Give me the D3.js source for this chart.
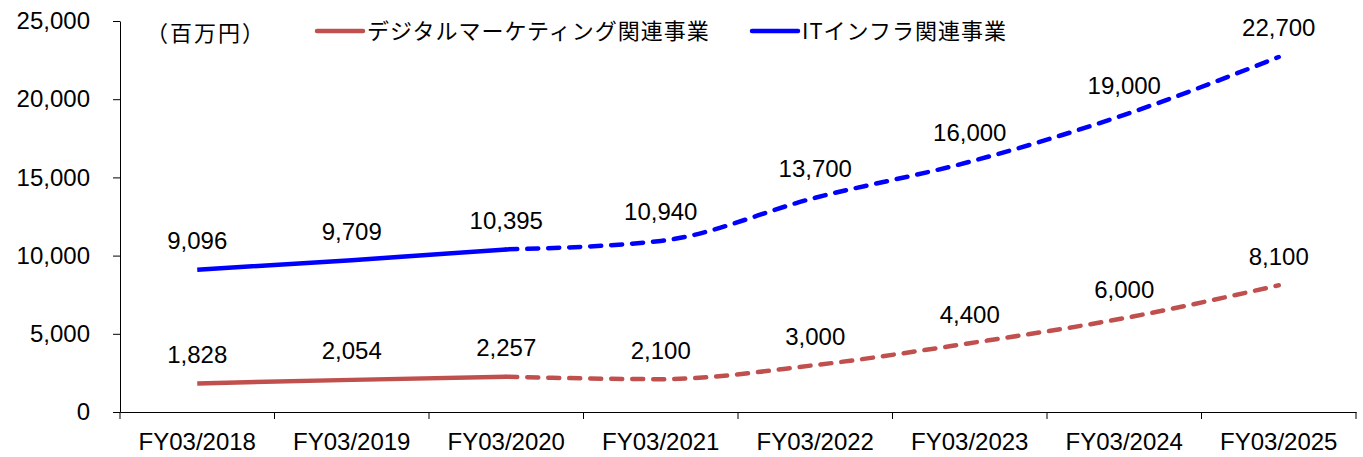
<!DOCTYPE html>
<html>
<head>
<meta charset="utf-8">
<script src="https://cdn.jsdelivr.net/npm/d3@7"></script>
<style>
  body { margin: 0; background: #fff; }
  svg text { font-family: "Liberation Sans", Arial, sans-serif; fill: #000; }
  .jp { font-family: "Noto Sans CJK JP", sans-serif; }
</style>
</head>
<body>
<svg id="chart" width="1363" height="457"></svg>
<script>
// chart values
const categories = ["FY03/2018", "FY03/2019", "FY03/2020", "FY03/2021",
  "FY03/2022", "FY03/2023", "FY03/2024", "FY03/2025"];
const digitalMarketing = [1828, 2054, 2257, 2100, 3000, 4400, 6000, 8100];
const itInfra = [9096, 9709, 10395, 10940, 13700, 16000, 19000, 22700];
const yTicks = [0, 5000, 10000, 15000, 20000, 25000];
const lastActual = 2; // index of last actual year, the rest are forecasts
const seriesNames = ["デジタルマーケティング関連事業", "ITインフラ関連事業"];
const unitLabel = "（百万円）";

const series = [
  { name: seriesNames[0], values: digitalMarketing, color: "#C0504D" },
  { name: seriesNames[1], values: itInfra, color: "#0000FF" }
];

const margin = { top: 21, right: 7, bottom: 45, left: 120 };
const W = 1363, H = 457;
const svg = d3.select("#chart");

const x = d3.scaleBand()
  .domain(categories)
  .range([margin.left, W - margin.right]);

const y = d3.scaleLinear()
  .domain([0, 25000])
  .range([H - margin.bottom, margin.top]);

const fmt = d3.format(",");

// y axis
const yAxis = svg.append("g")
  .attr("transform", `translate(${margin.left},0)`)
  .call(d3.axisLeft(y).tickValues(yTicks).tickFormat(fmt).tickSize(7).tickPadding(23).tickSizeOuter(0));
yAxis.selectAll("text").style("font-size", "24px");

// x axis (labels at band centres, ticks at band edges like excel)
const xAxis = svg.append("g")
  .attr("transform", `translate(0,${y(0)})`)
  .call(d3.axisBottom(x).tickSize(0).tickPadding(21).tickSizeOuter(0));
xAxis.selectAll("text").style("font-size", "24px");
const edges = categories.map(c => x(c)).concat([x.range()[1]]);
xAxis.selectAll(".edge")
  .data(edges)
  .enter().append("line")
  .attr("class", "edge")
  .attr("x1", d => d).attr("x2", d => d)
  .attr("y1", 0).attr("y2", 7)
  .attr("stroke", "#000");
svg.selectAll(".domain").attr("stroke", "#000");
svg.selectAll(".tick line").attr("stroke", "#000");

const cx = i => x(categories[i]) + x.bandwidth() / 2;

const line = d3.line()
  .x(d => cx(d.i))
  .y(d => y(d.v))
  .curve(d3.curveMonotoneX);

series.forEach(s => {
  const pts = s.values.map((v, i) => ({ i: i, v: v }));
  const actual = pts.slice(0, lastActual + 1);
  const forecast = pts.slice(lastActual);

  svg.append("path")
    .datum(forecast)
    .attr("d", line)
    .attr("fill", "none")
    .attr("stroke", s.color)
    .attr("stroke-width", 4.5)
    .attr("stroke-linecap", "round")
    .attr("stroke-dasharray", "11,10");

  svg.append("path")
    .datum(actual)
    .attr("d", line)
    .attr("fill", "none")
    .attr("stroke", s.color)
    .attr("stroke-width", 4.5)
    .attr("stroke-linecap", "butt");

  svg.selectAll(null)
    .data(pts)
    .enter().append("text")
    .attr("x", d => cx(d.i))
    .attr("y", d => y(d.v) - 20.5)
    .attr("text-anchor", "middle")
    .style("font-size", "24px")
    .text(d => fmt(d.v));
});

// unit + legend
svg.append("text")
  .attr("class", "jp")
  .attr("x", 146)
  .attr("y", 41)
  .style("font-size", "22px")
  .style("letter-spacing", "2px")
  .text(unitLabel);

const legendX = [317, 752];
series.forEach((s, k) => {
  const g = svg.append("g").attr("transform", `translate(${legendX[k]},31)`);
  g.append("line")
    .attr("x1", 0).attr("x2", 46)
    .attr("y1", 0).attr("y2", 0)
    .attr("stroke", s.color)
    .attr("stroke-width", 4.5)
    .attr("stroke-linecap", "round");
  g.append("text")
    .attr("class", "jp")
    .attr("x", 50)
    .attr("y", 8)
    .style("font-size", "22px")
    .style("letter-spacing", "1px")
    .text(s.name);
});
</script>
</body>
</html>
